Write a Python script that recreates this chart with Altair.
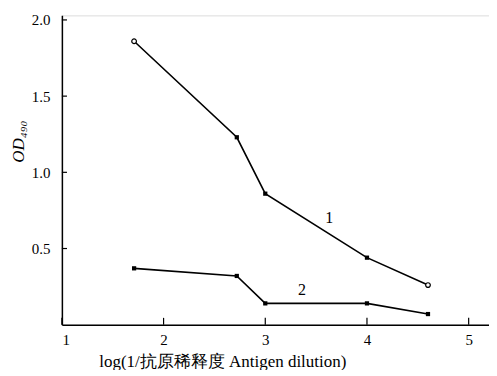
import altair as alt
import pandas as pd

x1 = [1.71, 2.72, 3.0, 4.0, 4.6]
y1 = [1.86, 1.23, 0.86, 0.44, 0.26]
s1 = ["open", "filled", "filled", "filled", "open"]
x2 = [1.71, 2.72, 3.0, 4.0, 4.6]
y2 = [0.37, 0.32, 0.14, 0.14, 0.07]
s2 = ["filled", "filled", "filled", "filled", "filled"]
x_ticks = [1, 2, 3, 4, 5]
y_ticks = [0.5, 1.0, 1.5, 2.0]
labels = ["1", "2"]
label_x = [3.63, 3.36]
label_y = [0.70, 0.23]

df = pd.DataFrame({
    "x": x1 + x2, "y": y1 + y2, "s": s1 + s2,
    "series": ["1"] * 5 + ["2"] * 5,
})
lab = pd.DataFrame({"t": labels, "x": label_x, "y": label_y})
xt = pd.DataFrame({"v": x_ticks})
yt = pd.DataFrame({"v": y_ticks})

FONT = "Liberation Serif"
xs = alt.Scale(domain=[1, 5.2], nice=False, zero=False)
ys = alt.Scale(domain=[0, 2.03], nice=False)

X = alt.X("x:Q", scale=xs, axis=alt.Axis(values=x_ticks, format="d", grid=False, ticks=False,
          labelFont=FONT, labelFontSize=15, labelColor="black", domainColor="black", domainWidth=1.5,
          title="log(1/抗原稀释度 Antigen dilution)", titleFont=FONT, titleFontSize=17,
          titleFontWeight="normal", titleColor="black", labelPadding=8,
          titleX=37, titleAlign="left", titleBaseline="middle", titleY=37))
Y = alt.Y("y:Q", scale=ys, axis=alt.Axis(values=y_ticks, format=".1f", grid=False, ticks=False,
          labelFont=FONT, labelFontSize=15, labelColor="black", domainColor="black", domainWidth=1.5,
          title="OD₄₉₀", titleFont=FONT, titleFontSize=17, titleFontStyle="italic",
          titleFontWeight="normal", titleColor="black", labelPadding=12,
          titleX=-43, titleY=126, titleBaseline="middle", titleAlign="center"))

lines = alt.Chart(df).mark_line(color="black", strokeWidth=1.6).encode(x=X, y=Y, detail="series:N")
pts_f = alt.Chart(df).transform_filter("datum.s == 'filled'").mark_point(
    shape="square", filled=True, color="black", size=18, opacity=1).encode(x="x:Q", y="y:Q")
pts_o = alt.Chart(df).transform_filter("datum.s == 'open'").mark_point(
    shape="circle", filled=True, fill="white", stroke="black", strokeWidth=1.2, size=22, opacity=1
).encode(x="x:Q", y="y:Q")
txt = alt.Chart(lab).mark_text(font=FONT, fontSize=16, color="black").encode(
    x="x:Q", y="y:Q", text="t:N")
xtick = alt.Chart(xt).mark_rule(color="black", strokeWidth=1.2).encode(
    x="v:Q", y=alt.datum(0), y2=alt.datum(0.045))
ytick = alt.Chart(yt).mark_rule(color="black", strokeWidth=1.2).encode(
    y="v:Q", x=alt.datum(1), x2=alt.datum(1.05))

chart = alt.layer(lines, xtick, ytick, pts_f, pts_o, txt).properties(
    width=428, height=310,
    autosize=alt.AutoSizeParams(type="none"),
    padding={"left": 54, "top": 7, "right": 0, "bottom": 45},
).configure_view(stroke=None).configure(background="white")

chart.save("out.html", embed_options={"renderer": "svg", "actions": False})
